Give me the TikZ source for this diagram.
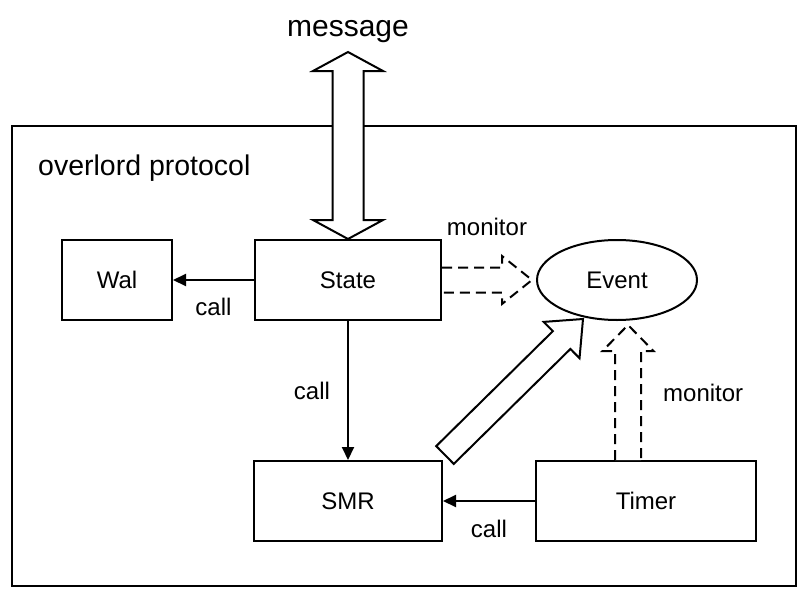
\documentclass[tikz,border=0pt]{standalone}
\usepackage{fontspec}
\setmainfont{Liberation Sans}
\usetikzlibrary{calc, shapes.geometric, arrows.meta}
\tikzset{box/.style={draw, line width=2pt, minimum height=80pt, inner sep=0pt, font=\fontsize{24}{28}\selectfont}}
\tikzset{call/.style={line width=2pt, -{Triangle[length=13pt,width=12pt]}}}
\tikzset{lbl/.style={font=\fontsize{24}{28}\selectfont, inner sep=0pt}}
\tikzset{fat/.style={line width=2pt, fill=white, line join=miter}}
\tikzset{fatdash/.style={fat, dash pattern=on 10pt off 6pt}}
% tail, tip, half shaft, half head, head length
\newcommand{\fatarrow}[6][fat]{%
  \coordinate (fa base) at ($(#3)!#6pt!(#2)$);
  \draw[#1] ($(#2)!#4pt!90:(#3)$) -- ($(fa base)!#4pt!90:(#3)$) -- ($(fa base)!#5pt!90:(#3)$) -- (#3)
    -- ($(fa base)!#5pt!-90:(#3)$) -- ($(fa base)!#4pt!-90:(#3)$) -- ($(#2)!#4pt!-90:(#3)$)}

\begin{document}
\begin{tikzpicture}[x=1pt, y=-1pt]
		\useasboundingbox (0,0) rectangle (809,597);
		\draw[line width=2pt] (12,126) rectangle (796,586);
		\node[lbl, font=\fontsize{28.5}{32}\selectfont, anchor=west] (title) at (38,168) {overlord protocol};
		\node[lbl, font=\fontsize{30}{34}\selectfont] (msg) at (348,32) {message};

		\node[box, minimum width=110pt] (Wal) at (117,280) {Wal};
		\node[box, minimum width=186pt] (State) at (348,280) {State};
		\node[box, ellipse, minimum width=160pt] (Event) at (617,280) {Event};
		\node[box, minimum width=188pt] (SMR) at (348,501) {SMR};
		\node[box, minimum width=220pt] (Timer) at (646,501) {Timer};

		% message arrow
		\coordinate (msg tip) at (348,52);
		\coordinate (up base) at ($(msg tip)!19pt!(State.north)$);
		\coordinate (dn base) at ($(State.north)!19pt!(msg tip)$);
		\draw[fat] (msg tip) -- ($(up base)!35pt!90:(msg tip)$) -- ($(up base)!15.5pt!90:(msg tip)$)
			-- ($(dn base)!15.5pt!-90:(State.north)$) -- ($(dn base)!35pt!-90:(State.north)$) -- (State.north)
			-- ($(dn base)!35pt!90:(State.north)$) -- ($(dn base)!15.5pt!90:(State.north)$)
			-- ($(up base)!15.5pt!-90:(msg tip)$) -- ($(up base)!35pt!-90:(msg tip)$) -- cycle;

		% calls
		\draw[call] (State) -- node[lbl, below=17pt] (call wal) {call} (Wal);
		\draw[call] (State) -- node[lbl, left=17pt] (call smr) {call} (SMR);
		\draw[call] (Timer) -- node[lbl, below=18pt] (call timer) {call} (SMR);

		% monitors
		\coordinate (st tip) at ($(Event.west)+(-4,0)$);
		\fatarrow[fatdash]{State.east}{st tip}{12.5}{24}{30};
		\node[lbl, above=44pt] (monitor state) at ($(State.east)!0.5!(st tip)$) {monitor};
		\coordinate (tm tail) at ($(Timer.north)+(-18,0)$);
		\coordinate (tm tip) at (628,325);
		\fatarrow[fatdash]{tm tail}{tm tip}{13}{25.5}{26};
		\node[lbl, right=35pt] (monitor timer) at ($(tm tail)!0.5!(tm tip)$) {monitor};

		% SMR to Event
		\coordinate (smr tail) at ($(SMR.north east)+(2,-5)$);
		\coordinate (ev tip) at ($(Event.center)+(-34,39)$);
		\fatarrow{smr tail}{ev tip}{12.5}{25.5}{30} -- cycle;
	\end{tikzpicture}
\end{document}
